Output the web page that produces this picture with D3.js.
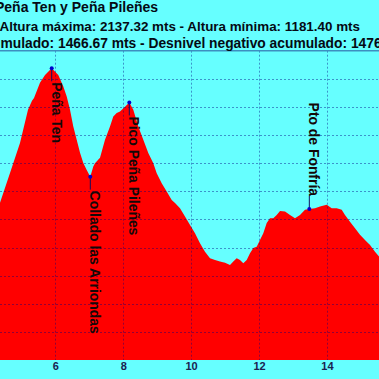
<!DOCTYPE html>
<html>
<head>
<meta charset="utf-8">
<script src="https://cdn.jsdelivr.net/npm/d3@7"></script>
<style>
  html, body { margin: 0; padding: 0; background: #66ffff; overflow: hidden; }
  svg { display: block; }
</style>
</head>
<body>
<div id="chart"></div>
<script>
// profile points (km, metres)
var distKm = [4.0, 4.371, 4.666, 4.960, 5.196, 5.314, 5.373, 5.549, 5.697, 5.894, 6.088, 6.236, 6.336, 6.433,
  6.530, 6.630, 6.728, 6.825, 6.925, 7.031, 7.119, 7.169, 7.317, 7.464, 7.611, 7.708, 7.809, 7.906, 8.053,
  8.180, 8.297, 8.445, 8.592, 8.739, 8.887, 8.987, 9.134, 9.281, 9.429, 9.526, 9.673, 9.820, 9.968, 10.115,
  10.262, 10.409, 10.557, 10.704, 10.851, 10.999, 11.146, 11.243, 11.343, 11.440, 11.538, 11.638, 11.735,
  11.832, 11.932, 12.029, 12.127, 12.227, 12.324, 12.421, 12.521, 12.619, 12.766, 12.913, 13.060, 13.208,
  13.355, 13.482, 13.650, 13.797, 13.994, 14.141, 14.289, 14.436, 14.533, 14.680, 14.828, 14.975, 15.122,
  15.270, 15.417, 15.535, 16.0];
var altitude = [1540, 1659, 1765, 1872, 1990, 2022, 2032, 2086, 2114, 2137.32, 2114, 2073, 2037, 1990,
  1930, 1883, 1837, 1801, 1776, 1752, 1788, 1800, 1819, 1883, 1930, 1966, 1978, 1984, 2001,
  2016, 1990, 1930, 1883, 1836, 1800, 1764, 1729, 1699, 1669, 1658, 1640, 1610, 1580, 1551,
  1515, 1485, 1462, 1456, 1450, 1446, 1438, 1450, 1462, 1456, 1444, 1456, 1480,
  1498, 1503, 1527, 1551, 1587, 1604, 1604, 1616, 1630, 1628, 1616, 1604, 1616,
  1634, 1637, 1640, 1646, 1652, 1640, 1640, 1634, 1616, 1592, 1569, 1545, 1527,
  1509, 1485, 1468, 1400];

// waypoints
var wpNames = ["Peña Ten", "Collado las Arriondas", "Pico Peña Pileñes", "Pto de Fonfría"];
var wpKm = [5.894, 7.031, 8.180, 13.482];
var wpAlt = [2137.32, 1752, 2016, 1637];

var xGrid = [4, 6, 8, 10, 12, 14, 16];
var xLabels = [6, 8, 10, 12, 14];
var yTicks = [1200, 1300, 1400, 1500, 1600, 1700, 1800, 1900, 2000, 2100];

var titleLines = [
  "Peña Ten y Peña Pileñes",
  "Altura máxima: 2137.32 mts - Altura mínima: 1181.40 mts",
  "Desnivel positivo acumulado: 1466.67 mts - Desnivel negativo acumulado: 1476.54 mts"
];

var W = 379, H = 379;
var plotTop = 50.7, plotBottom = 360;

var svg = d3.select("#chart").append("svg")
  .attr("width", W)
  .attr("height", H)
  .style("font-family", "'Liberation Sans', Arial, sans-serif");

svg.append("rect").attr("width", W).attr("height", H).attr("fill", "#66ffff");

// the chart is wider than the window, only a part of it shows
var x = d3.scaleLinear().domain([6, 14]).range([55.3, 326.9]);
var y = d3.scaleLinear().domain([1100, 2200]).range([plotBottom, plotTop]);

var data = distKm.map(function(d, i) { return {km: d, alt: altitude[i]}; });

var area = d3.area()
  .x(function(d) { return x(d.km); })
  .y0(y(1100))
  .y1(function(d) { return y(d.alt); });

svg.append("path")
  .datum(data)
  .attr("d", area)
  .attr("fill", "#ff0000");

// grid over the fill
var grid = svg.append("g")
  .attr("stroke", "#000080")
  .attr("stroke-opacity", 0.42)
  .attr("stroke-dasharray", "2,2");

grid.selectAll(".hg")
  .data(yTicks)
  .enter().append("line")
  .attr("x1", 0).attr("x2", W)
  .attr("y1", function(d) { return Math.round(y(d)) + 0.5; })
  .attr("y2", function(d) { return Math.round(y(d)) + 0.5; });

grid.selectAll(".vg")
  .data(xGrid)
  .enter().append("line")
  .attr("x1", function(d) { return Math.round(x(d)) + 0.5; })
  .attr("x2", function(d) { return Math.round(x(d)) + 0.5; })
  .attr("y1", plotTop).attr("y2", plotBottom);

// top border
svg.append("line")
  .attr("x1", 0).attr("x2", W)
  .attr("y1", plotTop).attr("y2", plotTop)
  .attr("stroke", "#3d8fc0")
  .attr("stroke-width", 1.5);

// x axis labels
var xAxis = d3.axisBottom(x)
  .tickValues(xLabels)
  .tickSize(0)
  .tickPadding(2)
  .tickFormat(d3.format("d"));

var gx = svg.append("g")
  .attr("transform", "translate(0," + plotBottom + ")")
  .call(xAxis);
gx.select(".domain").remove();
gx.selectAll("text")
  .attr("fill", "#1a2250")
  .style("font-family", "'Liberation Sans Narrow', 'Arial Narrow', sans-serif")
  .style("font-weight", "bold")
  .style("font-size", "11px");

// waypoints
var wp = wpNames.map(function(n, i) { return {name: n, km: wpKm[i], alt: wpAlt[i]}; });
var above = {"Pto de Fonfría": true};

var wg = svg.selectAll(".wp")
  .data(wp)
  .enter().append("g");

wg.each(function(d) {
  var g = d3.select(this);
  var px = x(d.km), py = y(d.alt);
  var t = g.append("text")
    .text(d.name)
    .attr("font-size", "13.9px")
    .attr("font-weight", "bold")
    .attr("fill", "#140808");
  var len = t.node().getComputedTextLength();
  var start = above[d.name] ? py - 13 - len : py + 14;
  t.attr("transform", "translate(" + px + "," + start + ") rotate(90)");
  var ly1 = above[d.name] ? py - 13 : py;
  var ly2 = above[d.name] ? py : py + 13;
  g.append("line")
    .attr("x1", px).attr("x2", px)
    .attr("y1", ly1).attr("y2", ly2)
    .attr("stroke", "#101060")
    .attr("stroke-width", 1);
  g.append("circle")
    .attr("cx", px).attr("cy", py)
    .attr("r", 2)
    .attr("fill", "#0000cc");
});

// title lines
var tg = svg.append("g")
  .attr("font-weight", "bold")
  .attr("fill", "#050a14");

var sizes = [14, 13.4, 13.8];

function measure(s, size) {
  var t = tg.append("text").attr("font-size", size + "px").text(s);
  var w = t.node().getComputedTextLength();
  t.remove();
  return w;
}

var baselines = [12, 30.5, 47.5];
var offsets = [-5, -0.5, 0.5 - measure("Desnivel positivo acu", sizes[2])];

tg.selectAll(".title")
  .data(titleLines)
  .enter().append("text")
  .attr("x", function(d, i) { return offsets[i]; })
  .attr("y", function(d, i) { return baselines[i]; })
  .attr("font-size", function(d, i) { return sizes[i] + "px"; })
  .text(function(d) { return d; });
</script>
</body>
</html>
